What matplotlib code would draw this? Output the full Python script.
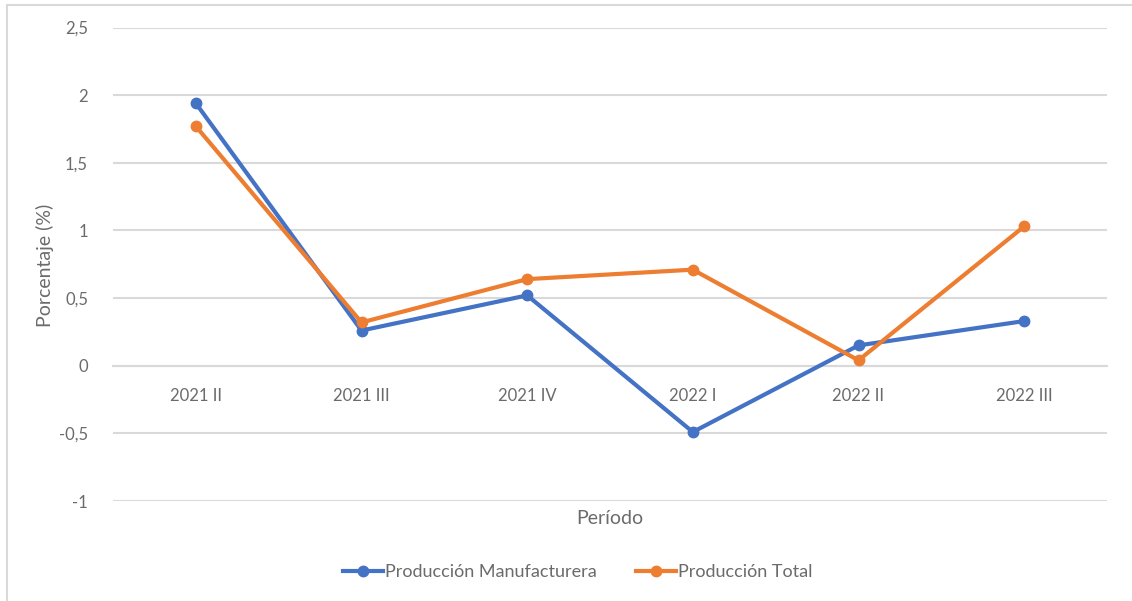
import matplotlib.pyplot as plt
from matplotlib.patches import Rectangle

# Variación porcentual por período
periodos = ['2021 II', '2021 III', '2021 IV', '2022 I', '2022 II', '2022 III']
manufacturera = [1.94, 0.26, 0.52, -0.49, 0.15, 0.33]
total = [1.77, 0.32, 0.64, 0.71, 0.04, 1.03]

plt.rcParams['font.family'] = ['Lato', 'DejaVu Sans']
gris = '#6b6b6b'

fig = plt.figure(figsize=(11.32, 6.01), dpi=100)
ax = fig.add_axes([113 / 1132, 1 - 501 / 601, (1107 - 113) / 1132, (501 - 27.5) / 601])

# marco del gráfico
fig.patches.append(Rectangle((7 / 1132, -0.05), 1.1, 1 - 5 / 601 + 0.05, transform=fig.transFigure,
                             fill=False, edgecolor='#d9d9d9', linewidth=1.5))

x = range(len(periodos))
ax.plot(x, manufacturera, color='#4472C4', linewidth=3, marker='o', markersize=7.5,
        label='Producción Manufacturera', zorder=3)
ax.plot(x, total, color='#ED7D31', linewidth=3, marker='o', markersize=7.5,
        label='Producción Total', zorder=3)

ax.set_xlim(-0.5, len(periodos) - 0.5)
ax.set_ylim(-1, 2.5)
ax.set_yticks([-1, -0.5, 0, 0.5, 1, 1.5, 2, 2.5])
ax.set_yticklabels(['-1', '-0,5', '0', '0,5', '1', '1,5', '2', '2,5'])
ax.yaxis.grid(True, color='#d9d9d9', linewidth=1.5)
ax.set_axisbelow(True)

for s in ['top', 'right', 'left']:
    ax.spines[s].set_visible(False)
ax.spines['bottom'].set_position(('data', 0))
ax.spines['bottom'].set_color('#d9d9d9')
ax.spines['bottom'].set_linewidth(1.5)

ax.set_xticks(list(x))
ax.set_xticklabels(periodos)
ax.tick_params(axis='x', length=0, pad=16, labelsize=12, labelcolor=gris)
ax.tick_params(axis='y', length=0, pad=18, labelsize=12, labelcolor=gris)

fig.text(610 / 1132, 1 - 518 / 601, 'Período', ha='center', va='center',
         fontsize=14, color=gris)
fig.text(45 / 1132, 1 - 265 / 601, 'Porcentaje (%)', ha='center', va='center',
         rotation=90, fontsize=14, color=gris)

leg = fig.legend(loc='center', bbox_to_anchor=(578 / 1132, 1 - 572 / 601), ncol=2,
                 frameon=False, fontsize=13, handlelength=2.2, handletextpad=0.1,
                 columnspacing=2.2)
for t in leg.get_texts():
    t.set_color(gris)

fig.savefig('out.png', dpi=100)
